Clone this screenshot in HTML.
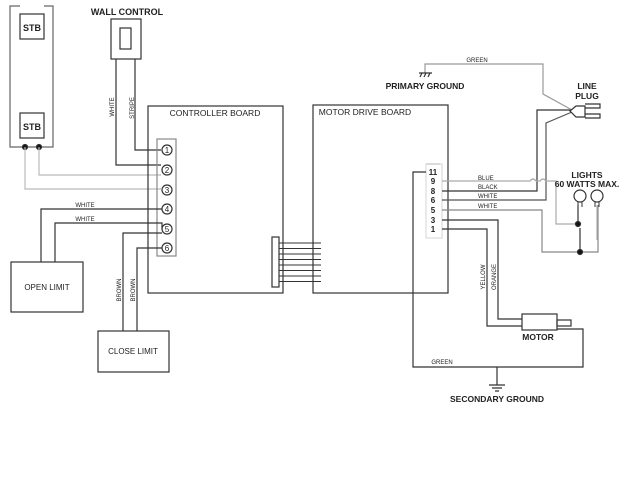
<!DOCTYPE html><html><head><style>body{margin:0;background:#fff}svg{display:block}text{font-family:"Liberation Sans",sans-serif;fill:#222}</style></head><body>
<svg width="640" height="480" viewBox="0 0 640 480" fill="none" stroke="#333" stroke-width="1.2">
<!-- STB -->
<path d="M20 6H10V147H53V6H44" stroke="#666"/>
<rect x="20" y="14" width="24" height="25"/><rect x="20" y="113" width="24" height="25"/>
<text x="32" y="31" font-size="9" font-weight="bold" text-anchor="middle" stroke="none">STB</text>
<text x="32" y="130" font-size="9" font-weight="bold" text-anchor="middle" stroke="none">STB</text>
<circle cx="25" cy="147" r="2.5" fill="#111"/><circle cx="39" cy="147" r="2.5" fill="#111"/>
<path d="M25 147V189H161M39 147V175H161" stroke="#bbb"/>
<!-- wall control -->
<text x="127" y="15" font-size="9" font-weight="bold" text-anchor="middle" stroke="none">WALL CONTROL</text>
<rect x="111" y="19" width="30" height="40"/><rect x="120" y="28" width="11" height="21"/>
<path d="M116 59V165H161M135 59V150H161"/>
<text transform="translate(114,107) rotate(-90)" font-size="6" text-anchor="middle" fill="#777" stroke="none">WHITE</text>
<text transform="translate(134,108) rotate(-90)" font-size="6" text-anchor="middle" fill="#777" stroke="none">STRIPE</text>
<!-- controller -->
<rect x="148" y="106" width="135" height="187"/>
<text x="215" y="116" font-size="8.5" text-anchor="middle" stroke="none">CONTROLLER BOARD</text>
<rect x="157" y="139" width="19" height="117" stroke="#888"/>
<g font-size="8" text-anchor="middle" stroke="none">
<circle cx="167" cy="150" r="5" stroke="#333"/><text x="167" y="153">1</text>
<circle cx="167" cy="170" r="5" stroke="#333"/><text x="167" y="173">2</text>
<circle cx="167" cy="190" r="5" stroke="#333"/><text x="167" y="193">3</text>
<circle cx="167" cy="209" r="5" stroke="#333"/><text x="167" y="212">4</text>
<circle cx="167" cy="229" r="5" stroke="#333"/><text x="167" y="232">5</text>
<circle cx="167" cy="248" r="5" stroke="#333"/><text x="167" y="251">6</text>
</g>
<path d="M41 262V209H162M55 262V223H162V229M123 331V233H162M137 331V248H162"/>
<text x="85" y="207" font-size="6" fill="#777" text-anchor="middle" stroke="none">WHITE</text>
<text x="85" y="221" font-size="6" fill="#777" text-anchor="middle" stroke="none">WHITE</text>
<text transform="translate(121,290) rotate(-90)" font-size="6" text-anchor="middle" fill="#777" stroke="none">BROWN</text>
<text transform="translate(135,290) rotate(-90)" font-size="6" text-anchor="middle" fill="#777" stroke="none">BROWN</text>
<rect x="11" y="262" width="72" height="50"/>
<text x="47" y="290" font-size="8" text-anchor="middle" stroke="none">OPEN LIMIT</text>
<rect x="98" y="331" width="71" height="41"/>
<text x="133" y="354" font-size="8" text-anchor="middle" stroke="none">CLOSE LIMIT</text>
<!-- connector -->
<rect x="272" y="237" width="7" height="50"/>
<path d="M279 243H321M279 248.5H321M279 254H321M279 259.5H321M279 265H321M279 270.5H321M279 276H321M279 281.5H321" stroke-width="1"/>
<!-- motor drive -->
<rect x="313" y="105" width="135" height="188"/>
<text x="365" y="115" font-size="8.5" text-anchor="middle" stroke="none">MOTOR DRIVE BOARD</text>
<path d="M426 164H440"/>
<rect x="426" y="164" width="16" height="74" stroke="#ddd"/>
<g font-size="8" font-weight="bold" text-anchor="middle" stroke="none">
<text x="433" y="175">11</text><text x="433" y="184">9</text><text x="433" y="194">8</text><text x="433" y="203">6</text><text x="433" y="213">5</text><text x="433" y="223">3</text><text x="433" y="232">1</text></g>
<path d="M426 172H413V367H583V329H557"/>
<text x="442" y="364" font-size="6" fill="#777" text-anchor="middle" stroke="none">GREEN</text>
<path d="M442 229H487V326H522M442 220H498V319H522"/>
<text transform="translate(485,277) rotate(-90)" font-size="6" text-anchor="middle" fill="#777" stroke="none">YELLOW</text>
<text transform="translate(496,277) rotate(-90)" font-size="6" text-anchor="middle" fill="#777" stroke="none">ORANGE</text>
<rect x="522" y="314" width="35" height="16"/><rect x="557" y="320" width="14" height="6"/>
<text x="538" y="340" font-size="8.5" font-weight="bold" text-anchor="middle" stroke="none">MOTOR</text>
<path d="M497 367V385"/><path d="M489 385H505M492 388H502M495 391H499"/>
<text x="497" y="402" font-size="8.5" font-weight="bold" text-anchor="middle" stroke="none">SECONDARY GROUND</text>
<!-- wires to plug & lights -->
<path d="M442 191H537V110H572"/>
<path d="M442 200H546V123L572 112" stroke="#555"/>
<path d="M442 210H542V252H598V205" stroke="#888"/>
<path d="M442 181H530q3-4 6 0h4q3-4 6 0h10V224H580M597 205V240" stroke="#aaa"/>
<path d="M578 205V224M580 228V252" stroke="#333"/>
<circle cx="578" cy="224" r="2.5" fill="#111"/><circle cx="580" cy="252" r="2.5" fill="#111"/>
<circle cx="580" cy="196" r="6"/><circle cx="597" cy="196" r="6"/>
<path d="M578 202V207M582 202V207M595 202V207M599 202V207" stroke-width="1"/>
<g font-size="6" fill="#777" stroke="none"><text x="478" y="180">BLUE</text><text x="478" y="189">BLACK</text><text x="478" y="198">WHITE</text><text x="478" y="208">WHITE</text></g>
<text x="587" y="178" font-size="8.5" font-weight="bold" text-anchor="middle" stroke="none">LIGHTS</text>
<text x="587" y="187" font-size="8.5" font-weight="bold" text-anchor="middle" stroke="none">60 WATTS MAX.</text>
<!-- primary ground -->
<path d="M425 73V64H543V94L572 110" stroke="#999"/>
<path d="M419 73H432M420 77l2-4M424 77l2-4M428 77l2-4"/>
<text x="477" y="62" font-size="6" fill="#777" text-anchor="middle" stroke="none">GREEN</text>
<text x="425" y="89" font-size="8.5" font-weight="bold" text-anchor="middle" stroke="none">PRIMARY GROUND</text>
<text x="587" y="89" font-size="8.5" font-weight="bold" text-anchor="middle" stroke="none">LINE</text>
<text x="587" y="99" font-size="8.5" font-weight="bold" text-anchor="middle" stroke="none">PLUG</text>
<path d="M570 111L576 106H585V117H576Z" fill="#fff"/>
<path d="M585 104H600V108H585M585 114H600V118H585"/>
</svg></body></html>
